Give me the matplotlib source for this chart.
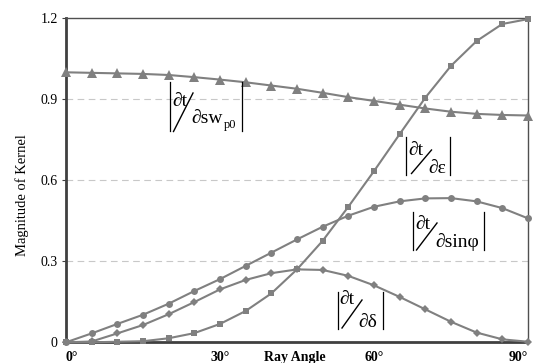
import matplotlib
matplotlib.use("Agg")
import matplotlib.pyplot as plt
from matplotlib.lines import Line2D

# ray angle in degrees, one point every 5 degrees
angles = [0, 5, 10, 15, 20, 25, 30, 35, 40, 45, 50, 55, 60, 65, 70, 75, 80, 85, 90]

# |dt/dsw_p0|
k_swp0 = [1.000, 0.998, 0.996, 0.994, 0.990, 0.982, 0.973, 0.963, 0.951, 0.939,
          0.924, 0.908, 0.894, 0.880, 0.866, 0.854, 0.846, 0.842, 0.840]
# |dt/d epsilon|
k_eps = [0.000, 0.000, 0.002, 0.004, 0.015, 0.034, 0.068, 0.116, 0.181, 0.270,
         0.376, 0.502, 0.634, 0.771, 0.906, 1.024, 1.116, 1.179, 1.197]
# |dt/d sin phi|
k_sinphi = [0.000, 0.033, 0.068, 0.102, 0.143, 0.190, 0.234, 0.283, 0.332, 0.381,
            0.428, 0.469, 0.502, 0.522, 0.533, 0.534, 0.522, 0.497, 0.459]
# |dt/d delta|
k_delta = [0.000, 0.003, 0.033, 0.064, 0.104, 0.149, 0.196, 0.231, 0.256, 0.270,
           0.268, 0.246, 0.211, 0.168, 0.122, 0.076, 0.036, 0.011, 0.002]

y_ticks = [0, 0.3, 0.6, 0.9, 1.2]
y_ticklabels = ["0", "0.3", "0.6", "0.9", "1.2"]
x_ticks = [0, 30, 60, 90]
x_ticklabels = ["0°", "30°", "60°", "90°"]

W, H = 533, 363
plt.rcParams['font.family'] = ['Liberation Serif', 'DejaVu Serif']

fig = plt.figure(figsize=(W / 100, H / 100), dpi=100)
ax = fig.add_axes([66 / W, 1 - 342.3 / H, 462 / W, 324 / H])

line_color = '#808080'
series = [
    (k_swp0, '^', 6.5),
    (k_eps, 's', 5),
    (k_sinphi, 'o', 5),
    (k_delta, 'D', 4.5),
]
for vals, mk, ms in series:
    ax.plot(angles, vals, color=line_color, lw=1.5, marker=mk, ms=ms,
            markeredgewidth=0, clip_on=False, zorder=3)

ax.set_xlim(0, 90)
ax.set_ylim(0, 1.2)

# dashed light grid at the inner y levels
for yv in y_ticks[1:-1]:
    ax.axhline(yv, color='#c8c8c8', lw=0.8, ls=(0, (6, 4)), zorder=1)

ax.set_yticks(y_ticks)
ax.set_yticklabels(y_ticklabels, fontsize=10)
ax.tick_params(axis='y', length=3, width=0.8, color='#404040', pad=3)
ax.set_xticks([])

for sp in ['left', 'bottom']:
    ax.spines[sp].set_color('#404040')
    ax.spines[sp].set_linewidth(2)
for sp in ['top', 'right']:
    ax.spines[sp].set_color('#505050')
    ax.spines[sp].set_linewidth(1)

# x tick labels sit on the same row as the axis title
aligns = ['left', 'center', 'center', 'right']
for xv, lab, ha in zip(x_ticks, x_ticklabels, aligns):
    ax.text(xv, -0.026, lab, ha=ha, va='top', fontsize=10, fontweight='bold',
            transform=ax.get_xaxis_transform())
ax.text(0.495, -0.026, "Ray Angle", ha='center', va='top', fontsize=10,
        fontweight='bold', transform=ax.transAxes)
fig.text(22 / W, 1 - 195 / H, "Magnitude of Kernel", rotation=90, ha='center',
         va='center', fontsize=10.5)


def px(x, y):
    return x / W, 1 - y / H


def frac_label(bar_l, bar_r, top, bot, num_xy, den_xy, den, slash, sub=None, sub_xy=None):
    """Draw |dt/dx| as bars, a slanted fraction and text, placed in pixel coords."""
    for bx in (bar_l, bar_r):
        fig.add_artist(Line2D(*zip(px(bx, top), px(bx, bot)), color='black', lw=0.9))
    (x0, y0), (x1, y1) = slash
    fig.add_artist(Line2D(*zip(px(x0, y0), px(x1, y1)), color='black', lw=1.0))
    fig.text(*px(*num_xy), "∂t", fontsize=14, ha='left', va='baseline')
    fig.text(*px(*den_xy), den, fontsize=14, ha='left', va='baseline')
    if sub:
        fig.text(*px(*sub_xy), sub, fontsize=9, ha='left', va='baseline')


frac_label(170, 241.5, 82, 131.5, (172, 106.5), (191.5, 123), "∂sw",
           ((173.5, 131.5), (193, 93)), sub="p0", sub_xy=(224, 128))
frac_label(405.5, 450, 137, 175, (408, 155), (428, 173), "∂ε",
           ((411.5, 173.5), (431.5, 150)))
frac_label(412.5, 484, 212, 250, (415, 229), (435, 247), "∂sinφ",
           ((416.5, 250), (437, 223)))
frac_label(337.5, 382.5, 292, 329, (339.5, 304), (358.5, 327), "∂δ",
           ((342, 328), (362, 300)))

fig.savefig("out.png", dpi=100)
